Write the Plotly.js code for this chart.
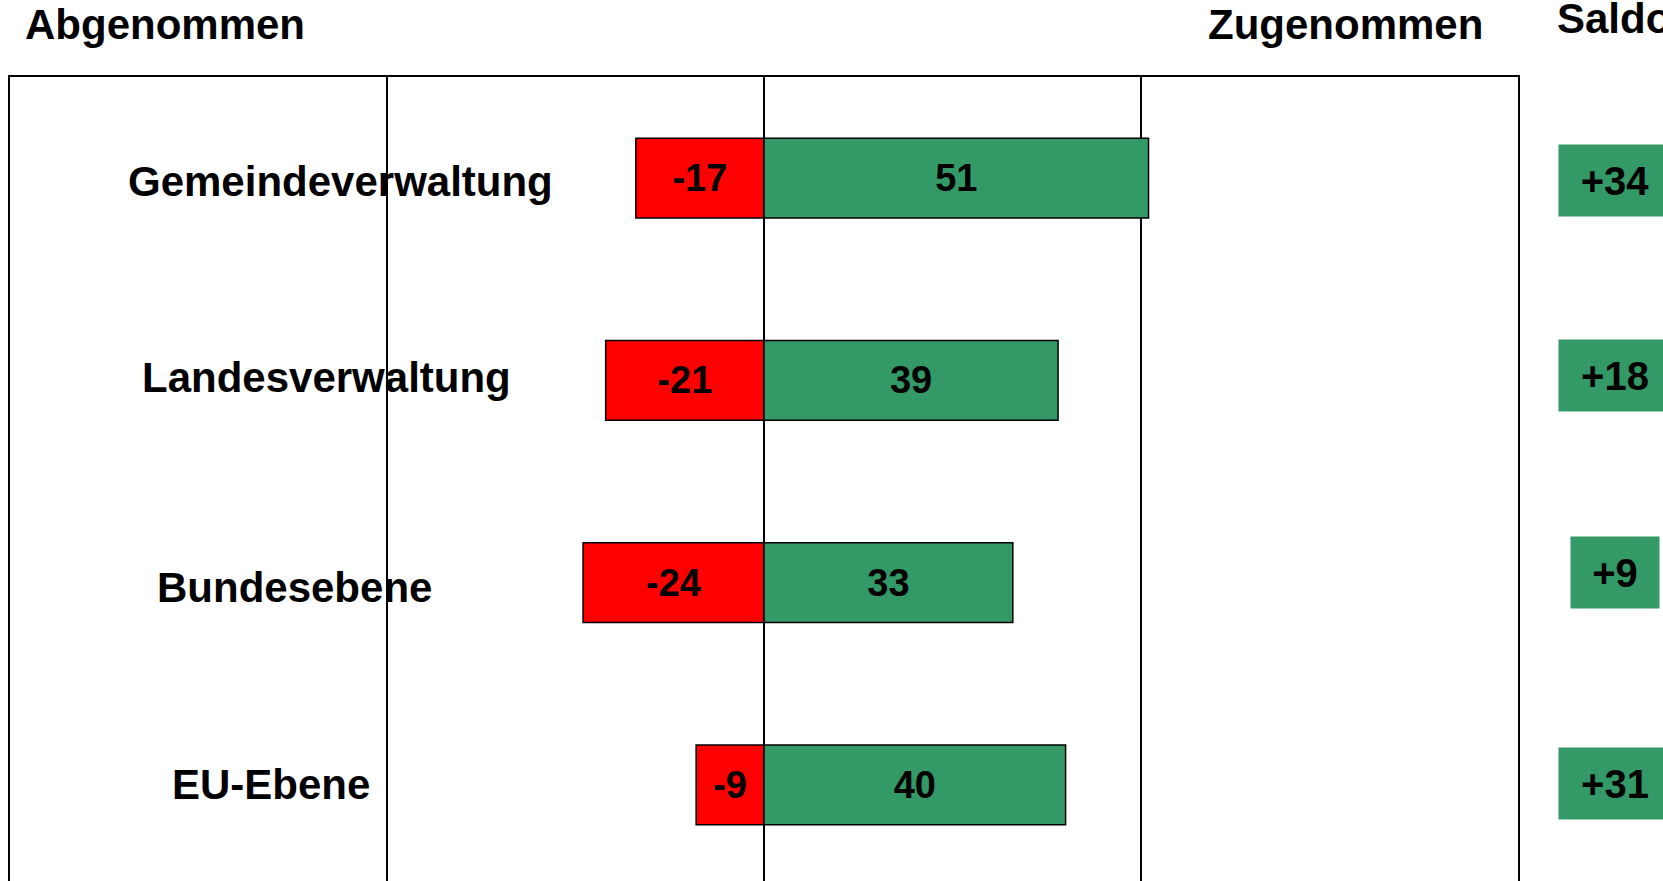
<!DOCTYPE html>
<html>
<head>
<meta charset="utf-8">
<script src="https://cdn.plot.ly/plotly-3.0.1.min.js"></script>
<style>
  html, body { margin: 0; padding: 0; overflow: hidden; background: #fff; }
</style>
</head>
<body>
<div id="plot"></div>
<script>
// Daten
var ebenen = ['Gemeindeverwaltung', 'Landesverwaltung', 'Bundesebene', 'EU-Ebene'];
var abgenommen = [-17, -21, -24, -9];
var zugenommen = [51, 39, 33, 40];

// Saldo = zugenommen + abgenommen
var saldo = zugenommen.map((v, i) => v + abgenommen[i]);

var FONT = 'Liberation Sans, Arial, sans-serif';

// Trace for abgenommen (red)
var traceAb = {
  y: ebenen,
  x: abgenommen,
  type: 'bar',
  orientation: 'h',
  marker: { color: '#ff0000', line: { color: '#000', width: 1.5 } },
  text: abgenommen.map(v => '<b>' + v + '</b>'),
  textposition: 'inside',
  insidetextanchor: 'middle',
  textangle: 0,
  textfont: { family: FONT, size: 38, color: '#000' },
  hoverinfo: 'x+y'
};

// Trace for zugenommen (green)
var traceZu = {
  y: ebenen,
  x: zugenommen,
  type: 'bar',
  orientation: 'h',
  marker: { color: '#339966', line: { color: '#000', width: 1.5 } },
  text: zugenommen.map(v => '<b>' + v + '</b>'),
  textposition: 'inside',
  insidetextanchor: 'middle',
  textangle: 0,
  textfont: { family: FONT, size: 38, color: '#000' },
  hoverinfo: 'x+y'
};

// label placement inside the plot (x in data units, yshift px)
var labelX = [-56.2, -58, -62.3, -65.4];
var labelShift = [-3, 3, -5, 0];
var saldoShift = [-2, 5, 10, 1];

var annotations = [];
ebenen.forEach(function (name, i) {
  annotations.push({
    x: labelX[i], y: name, xref: 'x', yref: 'y',
    text: '<b>' + name + '</b>', showarrow: false,
    xanchor: 'center', yanchor: 'middle', yshift: labelShift[i],
    font: { family: FONT, size: 42, color: '#000' }
  });
  var s = (saldo[i] > 0 ? '+' : '') + saldo[i];
  annotations.push({
    x: 1.064, y: name, xref: 'paper', yref: 'y',
    text: '<b>' + s + '</b>', showarrow: false,
    xanchor: 'center', yanchor: 'middle', yshift: saldoShift[i],
    bgcolor: '#339966', borderpad: 0,
    width: 24 * s.length + 40, height: 71,
    font: { family: FONT, size: 40, color: '#000' }
  });
});

// headers above the frame
annotations.push({
  x: 0.0086, y: 1.065, xref: 'paper', yref: 'paper',
  text: '<b>Abgenommen</b>', showarrow: false,
  xanchor: 'left', yanchor: 'middle',
  font: { family: FONT, size: 42, color: '#000' }
});
annotations.push({
  x: 0.9781, y: 1.065, xref: 'paper', yref: 'paper',
  text: '<b>Zugenommen</b>', showarrow: false,
  xanchor: 'right', yanchor: 'middle',
  font: { family: FONT, size: 42, color: '#000' }
});
annotations.push({
  x: 1.0245, y: 1.072, xref: 'paper', yref: 'paper',
  text: '<b>Saldo</b>', showarrow: false,
  xanchor: 'left', yanchor: 'middle',
  font: { family: FONT, size: 42, color: '#000' }
});

var layout = {
  width: 1663,
  height: 890,
  margin: { l: 10, r: 145, t: 77, b: 4 },
  paper_bgcolor: '#fff',
  plot_bgcolor: '#fff',
  barmode: 'relative',
  bargap: 0.605,
  showlegend: false,
  font: { family: FONT },
  xaxis: {
    range: [-100, 100],
    tickvals: [-50, 0, 50],
    showticklabels: false,
    ticks: '',
    showgrid: true,
    gridcolor: '#000',
    gridwidth: 1.5,
    zeroline: true,
    zerolinecolor: '#000',
    zerolinewidth: 1.5,
    showline: true,
    mirror: true,
    linecolor: '#000',
    linewidth: 2,
    fixedrange: true
  },
  yaxis: {
    type: 'category',
    range: [3.5, -0.5],
    showticklabels: false,
    ticks: '',
    showgrid: false,
    zeroline: false,
    showline: true,
    mirror: true,
    linecolor: '#000',
    linewidth: 2,
    fixedrange: true
  },
  annotations: annotations
};

Plotly.newPlot('plot', [traceAb, traceZu], layout, { displayModeBar: false, staticPlot: true });
</script>
</body>
</html>
